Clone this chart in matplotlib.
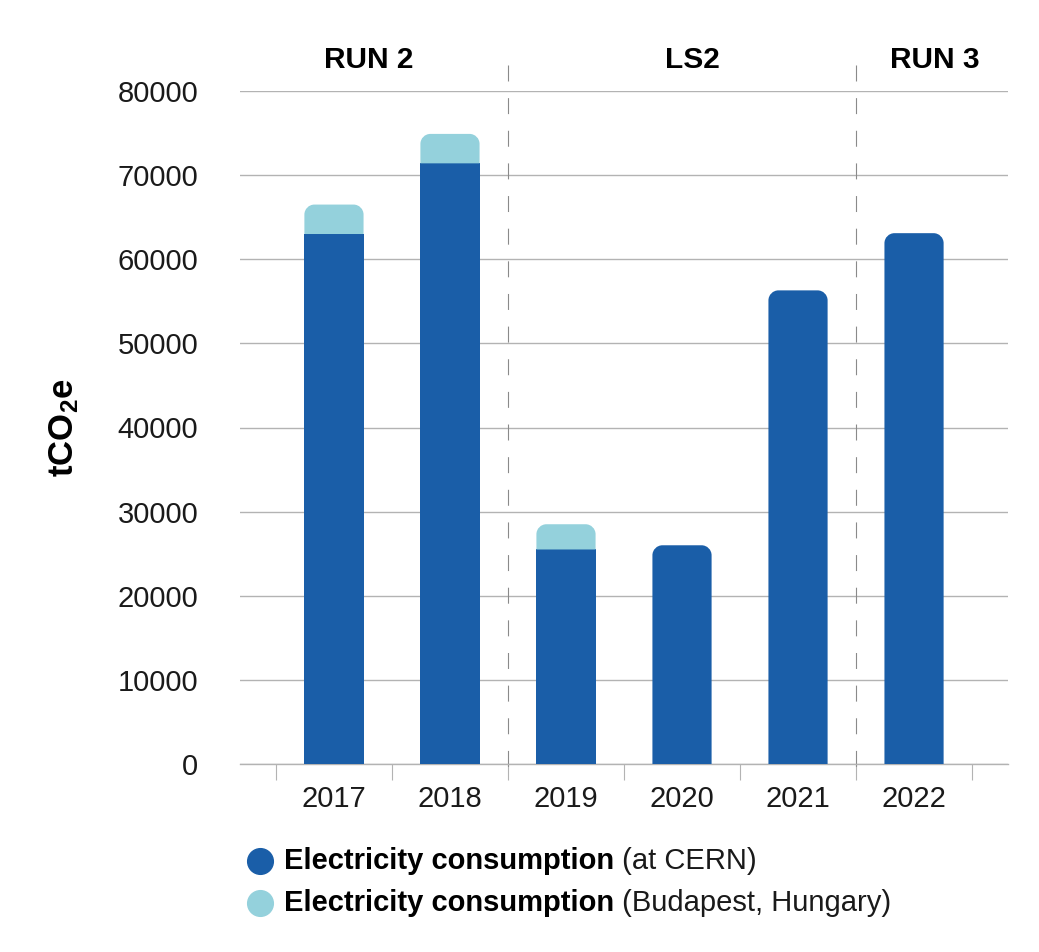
import matplotlib
matplotlib.use("Agg")
import matplotlib.pyplot as plt
import numpy as np
from matplotlib.path import Path
from matplotlib.patches import PathPatch
from matplotlib.lines import Line2D
from matplotlib.transforms import blended_transform_factory, IdentityTransform

years = ["2017", "2018", "2019", "2020", "2021", "2022"]
cern = [63000, 71400, 25500, 26000, 56300, 63100]
budapest = [3500, 3500, 3000, 0, 0, 0]
periods = ["RUN 2", "LS2", "RUN 3"]
period_label_x = [0.30, 3.09, 5.18]
period_bounds = [1.5, 4.5]
yticks = [0, 10000, 20000, 30000, 40000, 50000, 60000, 70000, 80000]

DARK = "#1A5EA8"
LIGHT = "#94D1DC"
GRID = "#b3b3b3"

plt.rcParams['font.family'] = ['Liberation Sans', 'DejaVu Sans']
plt.rcParams['mathtext.fontset'] = 'custom'
plt.rcParams['mathtext.rm'] = 'Liberation Sans'
plt.rcParams['mathtext.bf'] = 'Liberation Sans:bold'
plt.rcParams['lines.scale_dashes'] = False

FS = 21

W, H = 1039, 952
fig = plt.figure(figsize=(W / 100, H / 100), dpi=100)
ax = fig.add_axes([240 / W, 1 - 764 / H, (1008 - 240) / W, (764 - 91) / H])

x = np.arange(len(years))
bw = 0.51
b1 = ax.bar(x, cern, width=bw, color=DARK, zorder=3)
b2 = ax.bar(x, budapest, bottom=cern, width=bw, color=LIGHT, zorder=3)

ax.set_xlim(-0.81, 5.81)
ax.set_ylim(0, 80000)
fig.canvas.draw()

# round the top corners of the topmost segment of each bar (in pixel space)
def rounded_top(rect, r=10):
    x0, y0 = rect.get_x(), rect.get_y()
    w, h = rect.get_width(), rect.get_height()
    (px0, py0) = ax.transData.transform((x0, y0))
    (px1, py1) = ax.transData.transform((x0 + w, y0 + h))
    r = min(r, (py1 - py0))
    k = 0.5523
    verts = [(px0, py0), (px1, py0), (px1, py1 - r),
             (px1, py1 - r + k * r), (px1 - r + k * r, py1), (px1 - r, py1),
             (px0 + r, py1),
             (px0 + r - k * r, py1), (px0, py1 - r + k * r), (px0, py1 - r),
             (px0, py0)]
    codes = [Path.MOVETO, Path.LINETO, Path.LINETO,
             Path.CURVE4, Path.CURVE4, Path.CURVE4,
             Path.LINETO,
             Path.CURVE4, Path.CURVE4, Path.CURVE4,
             Path.CLOSEPOLY]
    return Path(verts, codes)

for i in range(len(years)):
    top = b2[i] if budapest[i] > 0 else b1[i]
    top.set_visible(False)
    p = PathPatch(rounded_top(top), transform=IdentityTransform(),
                  facecolor=top.get_facecolor(), edgecolor='none', zorder=3)
    fig.add_artist(p)
for i in range(len(years)):
    if budapest[i] == 0:
        b2[i].set_visible(False)

# grid & spines
ax.set_yticks(yticks)
ax.set_yticklabels([str(v) for v in yticks])
ax.yaxis.grid(True, color=GRID, linewidth=1.0, zorder=0)
ax.set_axisbelow(True)
for s in ["top", "right", "left"]:
    ax.spines[s].set_visible(False)
ax.spines["bottom"].set_color(GRID)
ax.spines["bottom"].set_linewidth(1.0)
ax.tick_params(axis='y', length=0, pad=30, labelsize=FS, labelcolor='#1a1a1a')

ax.set_xticks(x)
ax.set_xticklabels(years)
ax.set_xticks(np.arange(-0.5, 6.0, 1.0), minor=True)
ax.tick_params(axis='x', which='major', length=0, pad=15, labelsize=FS, labelcolor='#1a1a1a')
ax.tick_params(axis='x', which='minor', length=11.5, width=0.8, color=GRID, direction='out')

# dashed period separators (drawn top-down)
trans = blended_transform_factory(ax.transData, ax.transAxes)
for b in period_bounds:
    ax.plot([b, b], [1.039, -0.024], transform=trans, color='#8a8a8a', linewidth=0.8,
            dashes=(11.5, 12), clip_on=False, zorder=1)

for lbl, px in zip(periods, period_label_x):
    ax.text(px, 1.046, lbl, transform=trans, ha='center', va='center',
            fontsize=21.5, fontweight='bold', color='black')

# y label
fig.text(64 / W, 1 - 428 / H, r'$\mathbf{tCO_2e}$', rotation=90, ha='center', va='center',
         fontsize=25, color='black')

# legend
renderer = fig.canvas.get_renderer()
legend_items = [(DARK, "Electricity consumption", " (at CERN)", 861),
                (LIGHT, "Electricity consumption", " (Budapest, Hungary)", 903)]
for col, btxt, rtxt, py in legend_items:
    fig.lines.append(Line2D([260 / W], [1 - py / H], marker='o', markersize=18.5,
                            color=col, linestyle='none', transform=fig.transFigure))
    t = fig.text(284 / W, 1 - py / H, btxt, fontsize=FS, fontweight='bold', va='center', ha='left')
    bb = t.get_window_extent(renderer=renderer)
    fig.text(bb.x1 / W, 1 - py / H, rtxt, fontsize=FS, va='center', ha='left', color='#1a1a1a')

fig.savefig("out.png", dpi=100)
